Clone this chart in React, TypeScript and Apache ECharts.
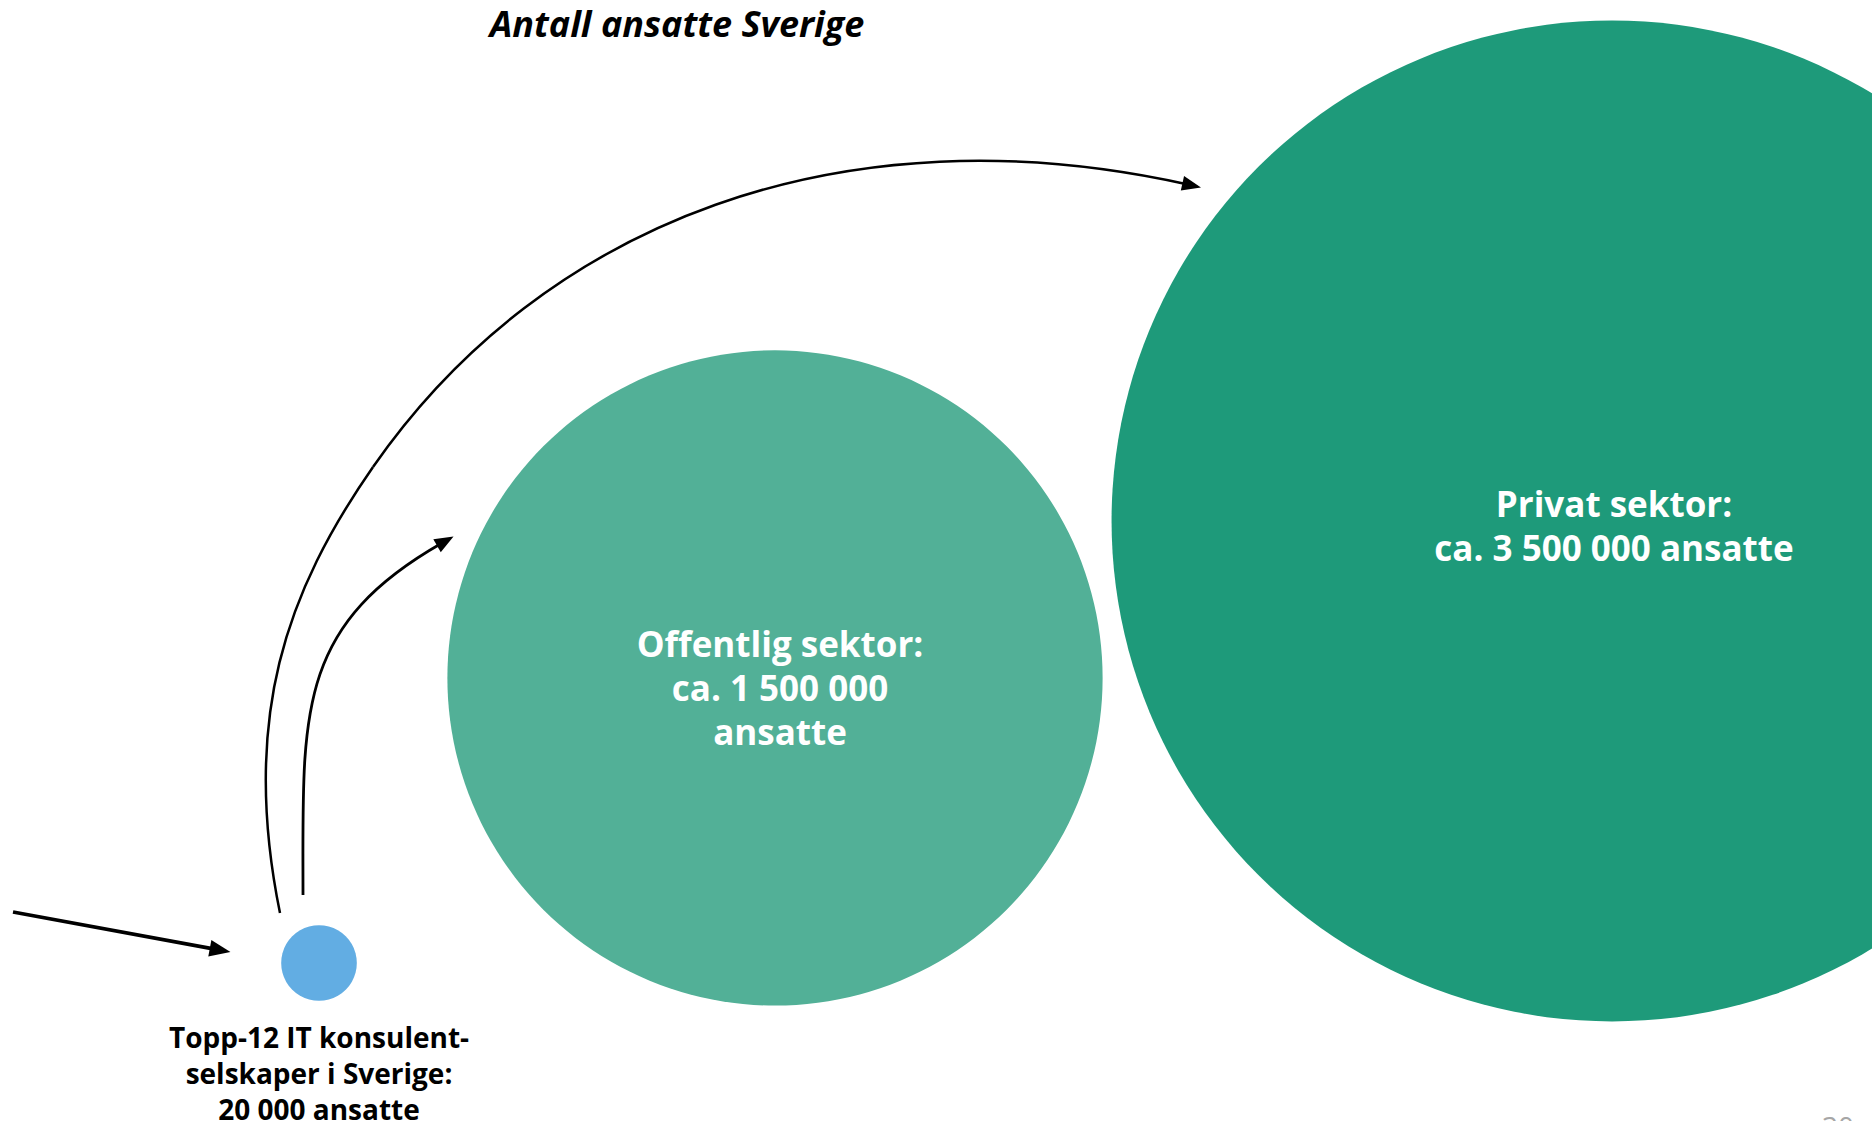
import React, { useEffect, useRef } from "react";
import * as echarts from "echarts";

// ---- data ----
const categories = ["Topp-12 IT konsulentselskaper", "Offentlig sektor", "Privat sektor"];
const employees = [20000, 1500000, 3500000];
const bubbleX = [319, 775, 1612];
const bubbleY = [963, 678, 521];
const bubbleColors = ["#62ADE3", "#52B097", "#1E9A7A"];
const labelTexts = [
  "Topp-12 IT konsulent-\nselskaper i Sverige:\n20 000 ansatte",
  "Offentlig sektor:\nca. 1 500 000\nansatte",
  "Privat sektor:\nca. 3 500 000 ansatte",
];
const title = "Antall ansatte Sverige";
const pageNumber = "30";

// decorative annotation arrows: cubic segments [x1,y1,cpx1,cpy1,cpx2,cpy2,x2,y2]
const bigArcSegments: number[][] = [
  [280, 913, 240, 717, 287.5, 590, 373, 467],
  [373, 467, 544, 221, 843.8, 107.8, 1188, 184.5],
];
const smallArcSegments: number[][] = [[303, 895, 303, 715, 294.4, 627.3, 442, 543]];
const leftArrowLine: number[] = [13, 912, 216, 949.4];

const SIZE_K = 0.535; // diameter = k * sqrt(value)

function curvedArrow(segs: number[][], width: number, headLen: number, headHalf: number) {
  const els: any[] = segs.map((s) => ({
    type: "bezierCurve",
    shape: { x1: s[0], y1: s[1], cpx1: s[2], cpy1: s[3], cpx2: s[4], cpy2: s[5], x2: s[6], y2: s[7] },
    style: { stroke: "#000", lineWidth: width, fill: null },
    z: 10,
  }));
  const last = segs[segs.length - 1];
  els.push(head(last[4], last[5], last[6], last[7], headLen, headHalf));
  return els;
}

function head(fx: number, fy: number, ex: number, ey: number, headLen: number, headHalf: number) {
  const dx = ex - fx, dy = ey - fy;
  const len = Math.sqrt(dx * dx + dy * dy) || 1;
  const ux = dx / len, uy = dy / len;
  const tip = [ex + ux * headLen * 0.7, ey + uy * headLen * 0.7];
  const bx = tip[0] - ux * headLen, by = tip[1] - uy * headLen;
  const px = -uy, py = ux;
  return {
    type: "polygon",
    shape: {
      points: [tip, [bx + px * headHalf, by + py * headHalf], [bx - px * headHalf, by - py * headHalf]],
    },
    style: { fill: "#000" },
    z: 10,
  };
}

export default function App() {
  const ref = useRef<HTMLDivElement>(null);
  useEffect(() => {
    if (!ref.current) return;
    const chart = echarts.init(ref.current, null, { renderer: "svg" });
    const font = "'Open Sans', 'Noto Sans', sans-serif";
    const data = employees.map((v, i) => ({
      name: categories[i],
      value: [bubbleX[i], bubbleY[i], v],
      itemStyle: { color: bubbleColors[i], opacity: 1 },
      label:
        i === 0
          ? {
              show: true,
              formatter: labelTexts[i],
              position: "bottom",
              distance: 18,
              color: "#000",
              fontSize: 28,
              fontWeight: "bold",
              lineHeight: 36,
              fontFamily: font,
              align: "center",
            }
          : {
              show: true,
              formatter: labelTexts[i],
              position: "inside",
              offset: i === 1 ? [5, 9] : [2, 4],
              color: "#fff",
              fontSize: 35,
              fontWeight: "bold",
              lineHeight: 44,
              fontFamily: font,
              align: "center",
            },
    }));
    const [lx1, ly1, lx2, ly2] = leftArrowLine;
    chart.setOption({
      animation: false,
      backgroundColor: "#fff",
      grid: { left: 0, right: 0, top: 0, bottom: 0 },
      xAxis: { type: "value", min: 0, max: 1872, show: false },
      yAxis: { type: "value", min: 0, max: 1121, inverse: true, show: false },
      series: [
        {
          type: "scatter",
          data,
          symbol: "circle",
          symbolSize: (d: number[]) => Math.sqrt(d[2]) * SIZE_K,
          itemStyle: { opacity: 1 },
          silent: true,
          emphasis: { disabled: true },
        },
      ],
      graphic: [
        {
          type: "text",
          x: 677,
          y: 23,
          style: {
            text: title,
            font: `italic bold 36px ${font}`,
            fill: "#000",
            textAlign: "center",
            textVerticalAlign: "middle",
          },
        },
        {
          type: "text",
          x: 1838,
          y: 1112,
          style: {
            text: pageNumber,
            font: `28px ${font}`,
            fill: "#A6A6A6",
            textAlign: "center",
            textVerticalAlign: "top",
          },
        },
        ...curvedArrow(bigArcSegments, 2.5, 19, 7.5),
        ...curvedArrow(smallArcSegments, 2.8, 19, 7.5),
        {
          type: "line",
          shape: { x1: lx1, y1: ly1, x2: lx2, y2: ly2 },
          style: { stroke: "#000", lineWidth: 3.8 },
          z: 10,
        },
        head(lx1, ly1, lx2, ly2, 21, 8.5),
      ],
    });
    return () => chart.dispose();
  }, []);
  return (
    <div
      ref={ref}
      style={{ position: "absolute", left: 0, top: 0, width: 1872, height: 1121 }}
    />
  );
}
